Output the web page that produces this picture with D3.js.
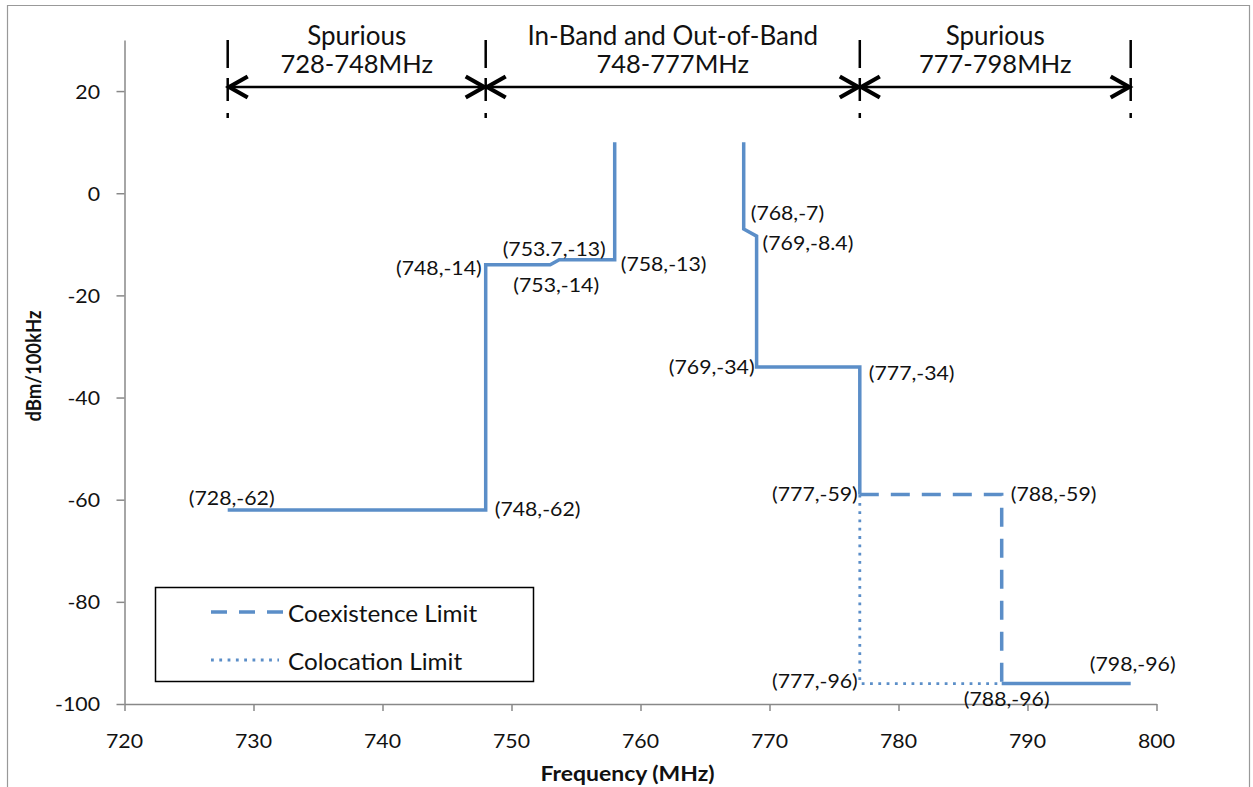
<!DOCTYPE html>
<html>
<head>
<meta charset="utf-8">
<script src="https://cdn.jsdelivr.net/npm/d3@7"></script>
<style>
  html, body { margin: 0; padding: 0; background: #fff; }
  svg { display: block; }
  text { font-family: Lato, "Open Sans", sans-serif; fill: #111; }
</style>
</head>
<body>
<svg id="chart" width="1253" height="787"></svg>
<script>
// ---------------- data ----------------
const xTicks = [720, 730, 740, 750, 760, 770, 780, 790, 800];
const yTicks = [20, 0, -20, -40, -60, -80, -100];

const limitLowerBand = [[728, -62], [748, -62], [748, -14], [753, -14], [753.7, -13], [758, -13], [758, 10]];
const limitUpperBand = [[768, 10], [768, -7], [769, -8.4], [769, -34], [777, -34], [777, -59]];
const limitTail = [[788, -96], [798, -96]];
const coexistenceLimit = [[777, -59], [788, -59], [788, -96]];
const colocationLimit = [[777, -59], [777, -96], [788, -96]];

const labelPoints = [
  [728, -62], [748, -62], [748, -14], [753.7, -13], [753, -14], [758, -13],
  [768, -7], [769, -8.4], [769, -34], [777, -34], [777, -59], [788, -59],
  [798, -96], [777, -96], [788, -96]
];

const bandEdges = [728, 748, 777, 798];
const bandTitles = ["Spurious", "In-Band and Out-of-Band", "Spurious"];
const bandRanges = ["728-748MHz", "748-777MHz", "777-798MHz"];

const legendNames = ["Coexistence Limit", "Colocation Limit"];

// ---------------- layout ----------------
const svg = d3.select("#chart");
const x = d3.scaleLinear().domain([720, 800]).range([124.5, 1156.5]);
const y = d3.scaleLinear().domain([-100, 30]).range([704, 40]);
const BLUE = "#5b8ec8";
const AXIS = "#888";
const SX = 1.15;

// label placement: [anchor, dx, dy] per labelPoints entry
const labelLayout = [
  ["middle", 4, -12], ["start", 9, -1], ["end", -4, 3], ["middle", -5, -11], ["middle", 6, 20], ["start", 6, 4],
  ["start", 7, -16], ["start", 6, 6], ["end", -2, 0], ["start", 9, 6], ["end", -2, -1], ["start", 9, -1],
  ["middle", 2, -20], ["end", -2, -3], ["middle", 5, 15]
];

function stext(parent, px, py, str, o) {
  o = Object.assign({size: 18.5, anchor: "middle", weight: "normal", sx: SX, sy: 1, rotate: 0}, o || {});
  const g = parent.append("g")
    .attr("transform", `translate(${px},${py}) rotate(${o.rotate}) scale(${o.sx},${o.sy})`);
  return g.append("text")
    .attr("text-anchor", o.anchor)
    .attr("dominant-baseline", "central")
    .attr("font-size", o.size)
    .attr("font-weight", o.weight)
    .text(str);
}

// outer border
svg.append("path")
  .attr("d", "M7.5,800 V5.5 H1249.5 V800")
  .attr("fill", "none").attr("stroke", "#999").attr("stroke-width", 1.2);

// axes
const xAxis = svg.append("g").attr("transform", `translate(0,${y(-100)})`)
  .call(d3.axisBottom(x).tickValues(xTicks).tickSize(7).tickSizeOuter(0).tickFormat(""));
const yAxis = svg.append("g").attr("transform", `translate(${x(720)},0)`)
  .call(d3.axisLeft(y).tickValues(yTicks).tickSize(8).tickSizeOuter(0).tickFormat(""));
[xAxis, yAxis].forEach(a => {
  a.selectAll("path, line").attr("stroke", AXIS).attr("stroke-width", 1.5);
  a.selectAll("text").remove();
});

xTicks.forEach(t => stext(svg, x(t), 741, String(t)));
yTicks.forEach(t => stext(svg, 100, y(t), String(t), {anchor: "end"}));

stext(svg, 627.5, 773, "Frequency (MHz)", {weight: "bold", size: 20.5, sx: 1.12});
stext(svg, 33, 366, "dBm/100kHz", {weight: "bold", size: 18.5, rotate: -90, sx: 1, sy: 1.12});

// lines
const line = d3.line().x(d => x(d[0])).y(d => y(d[1]));
[limitLowerBand, limitUpperBand, limitTail].forEach(s => {
  svg.append("path").attr("d", line(s)).attr("fill", "none")
    .attr("stroke", BLUE).attr("stroke-width", 3.5).attr("stroke-linejoin", "miter");
});
svg.append("path").attr("d", line(coexistenceLimit)).attr("fill", "none")
  .attr("stroke", BLUE).attr("stroke-width", 3.5).attr("stroke-dasharray", "19,12");
svg.append("path").attr("d", line(colocationLimit)).attr("fill", "none")
  .attr("stroke", BLUE).attr("stroke-width", 2.8).attr("stroke-dasharray", "2.8,5.5");

// data labels
labelPoints.forEach((p, i) => {
  const [anc, dx, dy] = labelLayout[i];
  stext(svg, x(p[0]) + dx, y(p[1]) + dy, `(${p[0]},${p[1]})`, {anchor: anc});
});

// band annotations
const ARROW_Y = 87;
bandEdges.forEach(e => {
  svg.append("line").attr("x1", x(e)).attr("x2", x(e)).attr("y1", 40).attr("y2", 118)
    .attr("stroke", "#000").attr("stroke-width", 2.5)
    .attr("stroke-dasharray", "28,10,23,12,5,100");
});
for (let i = 0; i < bandEdges.length - 1; i++) {
  const a = x(bandEdges[i]), b = x(bandEdges[i + 1]);
  svg.append("line").attr("x1", a).attr("x2", b).attr("y1", ARROW_Y).attr("y2", ARROW_Y)
    .attr("stroke", "#000").attr("stroke-width", 2.5);
  const head = (tip, dir) => svg.append("path")
    .attr("d", `M${tip + dir * 20},${ARROW_Y - 10.5} L${tip + dir * 1.5},${ARROW_Y} L${tip + dir * 20},${ARROW_Y + 10.5}`)
    .attr("fill", "none").attr("stroke", "#000").attr("stroke-width", 4.2)
    .attr("stroke-linejoin", "miter");
  head(a, 1);
  head(b, -1);
  const cx = (a + b) / 2;
  svg.append("text").attr("x", cx).attr("y", 45).attr("text-anchor", "middle")
    .attr("font-size", 26).text(bandTitles[i]);
  svg.append("text").attr("x", cx).attr("y", 73).attr("text-anchor", "middle")
    .attr("font-size", 25.5).text(bandRanges[i]);
}

// legend
const lg = svg.append("g");
lg.append("rect").attr("x", 155.5).attr("y", 587.5).attr("width", 378).attr("height", 94)
  .attr("fill", "#fff").attr("stroke", "#000").attr("stroke-width", 1.5);
lg.append("line").attr("x1", 211).attr("x2", 283).attr("y1", 612).attr("y2", 612)
  .attr("stroke", BLUE).attr("stroke-width", 3.5).attr("stroke-dasharray", "16,12");
lg.append("line").attr("x1", 211).attr("x2", 279).attr("y1", 660).attr("y2", 660)
  .attr("stroke", BLUE).attr("stroke-width", 2.8).attr("stroke-dasharray", "2.8,5.5");
legendNames.forEach((n, i) => stext(lg, 288, 613 + i * 48, n, {anchor: "start", size: 22.5, sx: 1.08}));
</script>
</body>
</html>
